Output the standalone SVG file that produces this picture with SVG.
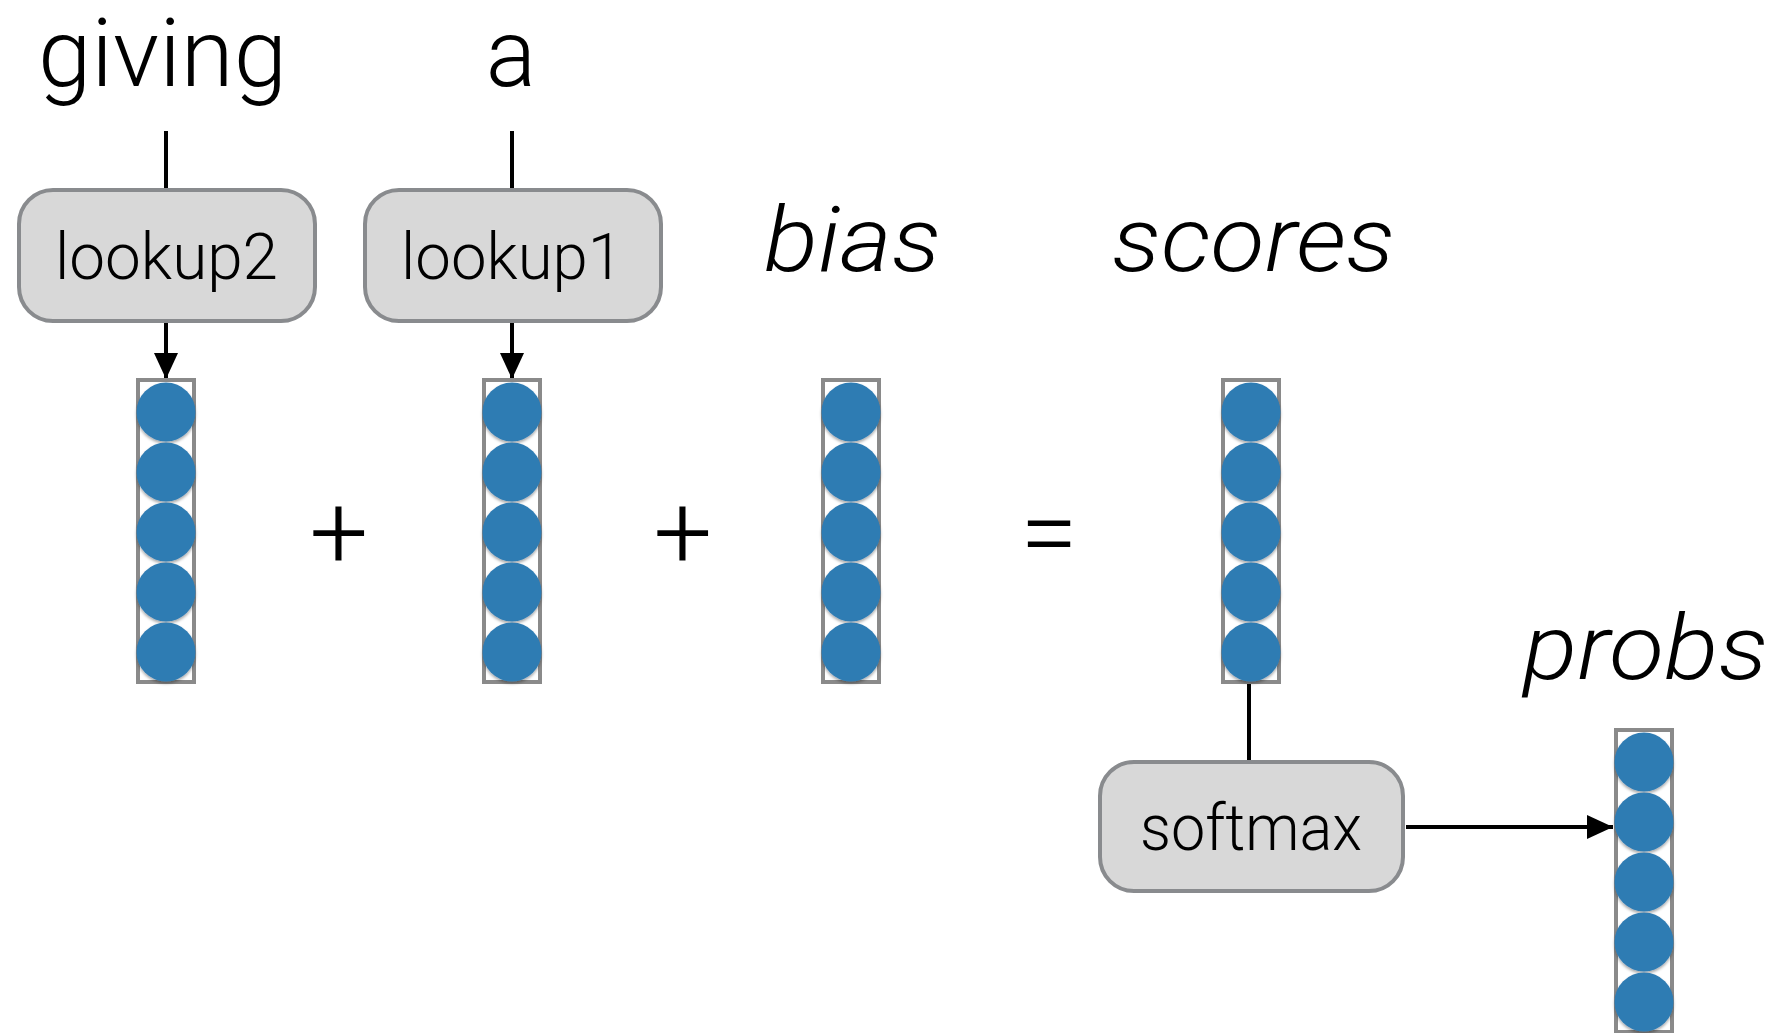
<svg xmlns="http://www.w3.org/2000/svg" width="1783" height="1033" viewBox="0 0 1783 1033">
<style>
.lbl{font-family:Roboto,"Liberation Sans",sans-serif;font-weight:300;fill:#000}
.big{font-size:94px}
.it{font-size:90px;font-style:italic}
.op{font-size:104px}
.box{fill:#d8d8d8;stroke:#898b8e;stroke-width:4}
.btx{font-family:Roboto,"Liberation Sans",sans-serif;font-weight:300;font-size:64px;fill:#000}
.col{fill:#fff;stroke:#8a8a8a;stroke-width:4}
.dot{fill:#2e7bb3;filter:url(#sh)}
.wire{stroke:#000;stroke-width:4;fill:none}
</style>
<defs>
<filter id="sh" x="-30%" y="-30%" width="160%" height="170%">
<feDropShadow dx="0" dy="2" stdDeviation="1.5" flood-color="#000" flood-opacity="0.35"/>
</filter>
<marker id="ah" markerWidth="6.5" markerHeight="6" refX="6.5" refY="3" orient="auto" markerUnits="strokeWidth">
<path d="M0,0 L6.5,3 L0,6 Z" fill="#000"/>
</marker>
<g id="column">
<rect class="col" x="-28" y="0" width="56" height="302"/>
<ellipse class="dot" cx="0" cy="32" rx="29.5" ry="29.5"/>
<ellipse class="dot" cx="0" cy="92" rx="29.5" ry="29.5"/>
<ellipse class="dot" cx="0" cy="152" rx="29.5" ry="29.5"/>
<ellipse class="dot" cx="0" cy="212" rx="29.5" ry="29.5"/>
<ellipse class="dot" cx="0" cy="272" rx="29.5" ry="29.5"/>
</g>
</defs>
<rect width="1783" height="1033" fill="#fff"/>

<g id="connectors">
<line class="wire" x1="166" y1="131" x2="166" y2="190"/>
<line class="wire" x1="512" y1="131" x2="512" y2="190"/>
<line class="wire" x1="166" y1="323" x2="166" y2="379" marker-end="url(#ah)"/>
<line class="wire" x1="512" y1="323" x2="512" y2="379" marker-end="url(#ah)"/>
<line class="wire" x1="1249" y1="683" x2="1249" y2="762"/>
<line class="wire" x1="1406" y1="827" x2="1613" y2="827" marker-end="url(#ah)"/>
</g>

<g id="label-giving"><text class="lbl big" x="38" y="86" textLength="249" lengthAdjust="spacingAndGlyphs">giving</text></g>
<g id="label-a"><text class="lbl big" x="511" y="86" text-anchor="middle">a</text></g>

<g id="lookup2">
<rect class="box" x="19" y="190" width="296" height="131" rx="34"/>
<text class="btx" x="55" y="279" textLength="223" lengthAdjust="spacingAndGlyphs">lookup2</text>
</g>
<g id="lookup1">
<rect class="box" x="365" y="190" width="296" height="131" rx="34"/>
<text class="btx" x="401" y="279" textLength="222" lengthAdjust="spacingAndGlyphs">lookup1</text>
</g>

<g id="vec-giving"><use href="#column" x="166" y="380"/></g>
<g id="vec-a"><use href="#column" x="512" y="380"/></g>
<g id="vec-bias"><use href="#column" x="851" y="380"/></g>
<g id="vec-scores"><use href="#column" x="1251" y="380"/></g>
<g id="vec-probs"><use href="#column" x="1644" y="730"/></g>

<g id="ops">
<text class="lbl op" x="339" y="568" text-anchor="middle">+</text>
<text class="lbl op" x="683" y="568" text-anchor="middle">+</text>
<text class="lbl op" x="1049" y="568" text-anchor="middle">=</text>
</g>

<g id="label-bias"><text class="lbl it" x="764" y="271" textLength="177" lengthAdjust="spacingAndGlyphs">bias</text></g>
<g id="label-scores"><text class="lbl it" x="1112" y="271" textLength="283" lengthAdjust="spacingAndGlyphs">scores</text></g>
<g id="label-probs"><text class="lbl it" x="1523" y="679" textLength="245" lengthAdjust="spacingAndGlyphs">probs</text></g>

<g id="softmax">
<rect class="box" x="1100" y="762" width="303" height="129" rx="34"/>
<text class="btx" x="1140" y="850" textLength="222" lengthAdjust="spacingAndGlyphs">softmax</text>
</g>
</svg>
